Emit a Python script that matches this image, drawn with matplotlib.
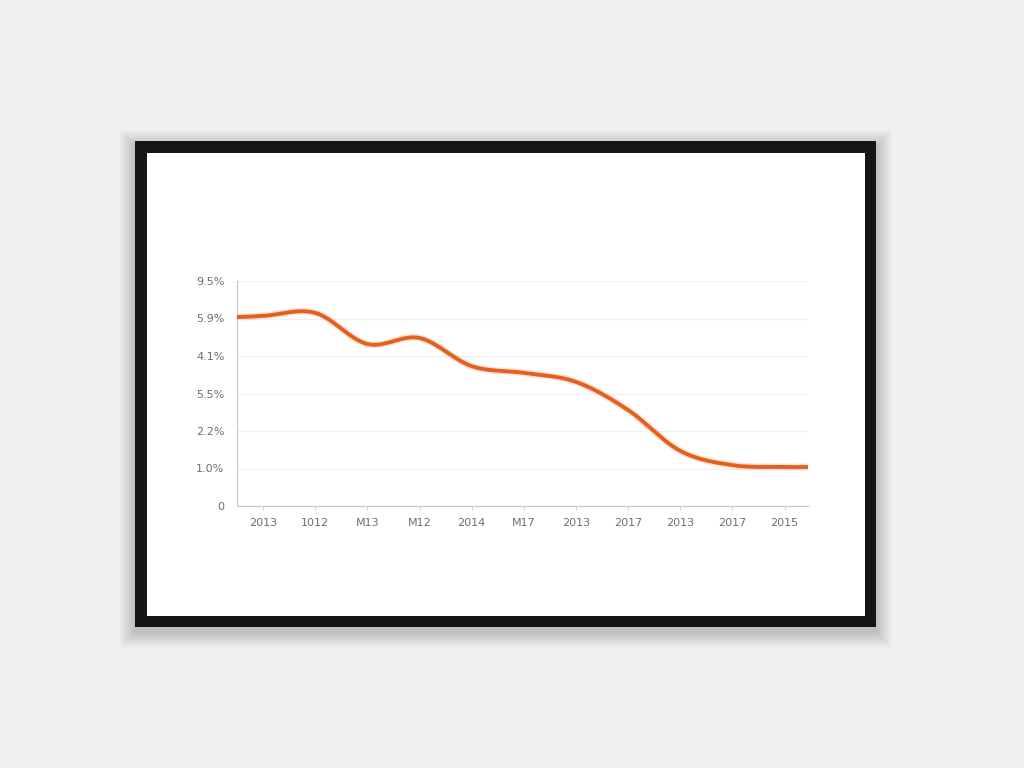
import numpy as np
import matplotlib
matplotlib.use("Agg")
import matplotlib.pyplot as plt
from matplotlib.patches import Rectangle

# ---- data ----
categories = ["2013", "1012", "M13", "M12", "2014", "M17", "2013", "2017", "2013", "2017", "2015"]
values = [5.07, 5.15, 4.32, 4.48, 3.73, 3.55, 3.31, 2.56, 1.47, 1.09, 1.04]
edge_start = 5.04
edge_end = 1.04
ytick_labels = ["0", "1.0%", "2.2%", "5.5%", "4.1%", "5.9%", "9.5%"]

W, H = 1024, 768
fig = plt.figure(figsize=(W / 100, H / 100), dpi=100)
fig.patch.set_facecolor("#eef0f2")

# background / frame layer
bg = fig.add_axes([0, 0, 1, 1])
bg.set_xlim(0, W)
bg.set_ylim(H, 0)
bg.axis("off")
# soft shadow (stacked translucent rectangles)
for g in range(16, 0, -1):
    bg.add_patch(Rectangle((135 - g, 141 - g + 5), 741 + 2 * g, 486 + 2 * g,
                           facecolor="#000000", alpha=0.010, edgecolor="none"))
bg.add_patch(Rectangle((135, 141), 741, 486, facecolor="#151515", edgecolor="none"))
bg.add_patch(Rectangle((147, 153), 718, 463, facecolor="#ffffff", edgecolor="none"))

# chart axes
ax = fig.add_axes([237 / W, 1 - 506 / H, 571 / W, 225 / H])
ax.set_facecolor("none")

xs_cat = np.arange(len(categories), dtype=float)
x_lo, x_hi = -0.5, 10.45
px = np.concatenate([[x_lo], xs_cat, [x_hi]])
py = np.concatenate([[edge_start], values, [edge_end]])

# cubic Hermite (Catmull-Rom style) smoothing through the points
m = np.zeros_like(py)
m[1:-1] = (py[2:] - py[:-2]) / (px[2:] - px[:-2])
xx, yy = [], []
for k in range(len(px) - 1):
    h = px[k + 1] - px[k]
    t = np.linspace(0, 1, 40)
    h00 = 2 * t**3 - 3 * t**2 + 1
    h10 = t**3 - 2 * t**2 + t
    h01 = -2 * t**3 + 3 * t**2
    h11 = t**3 - t**2
    xx.append(px[k] + t * h)
    yy.append(h00 * py[k] + h10 * h * m[k] + h01 * py[k + 1] + h11 * h * m[k + 1])
xx = np.concatenate(xx)
yy = np.concatenate(yy)

ax.plot(xx, yy, color="#f6b08a", lw=5.0, alpha=0.35, solid_capstyle="butt", zorder=3)
ax.plot(xx, yy, color="#e5601f", lw=2.8, solid_capstyle="butt", zorder=4)

ax.set_xlim(x_lo, x_hi)
ax.set_ylim(0, 6)
ax.set_yticks(range(len(ytick_labels)))
ax.set_yticklabels(ytick_labels)
ax.set_xticks(xs_cat)
ax.set_xticklabels(categories)

ax.grid(axis="y", color="#f0f0f0", lw=0.9)
ax.set_axisbelow(True)
for s in ["top", "right"]:
    ax.spines[s].set_visible(False)
ax.spines["left"].set_color("#cccccc")
ax.spines["bottom"].set_color("#cccccc")
ax.spines["left"].set_linewidth(0.9)
ax.spines["bottom"].set_linewidth(0.9)
ax.tick_params(axis="y", length=0, pad=9, labelsize=8, labelcolor="#6e6e6e")
ax.tick_params(axis="x", length=3, color="#d4d4d4", pad=6, labelsize=8, labelcolor="#6e6e6e")

fig.savefig("out.png", dpi=100, facecolor=fig.get_facecolor())
